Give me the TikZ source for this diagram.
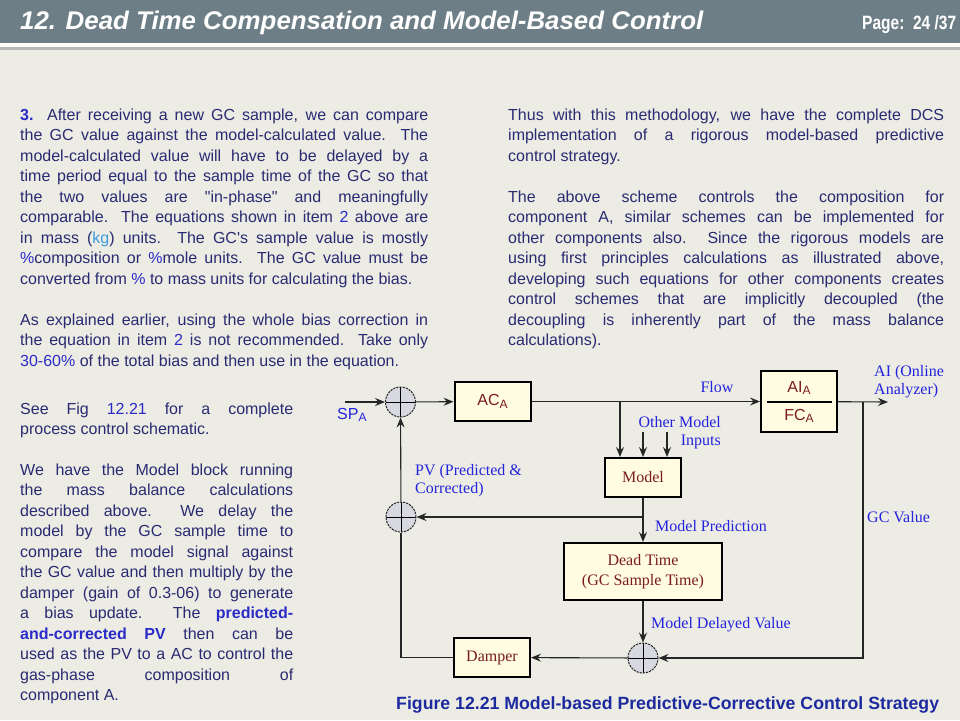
\documentclass[tikz,border=0pt]{standalone}
\usepackage{fontspec}
\setmainfont{Liberation Sans}
\newfontfamily\diagfont{Liberation Serif}
\usetikzlibrary{positioning,arrows.meta}

\definecolor{pagebg}{HTML}{ECECE5}
\definecolor{headbar}{HTML}{6D7E87}
\definecolor{bodyblue}{HTML}{2A2A72}
\definecolor{hiblue}{HTML}{2B2BC8}
\definecolor{kgblue}{HTML}{3C9BDC}
\definecolor{lblblue}{HTML}{2424DC}
\definecolor{boxfill}{HTML}{FFFCE2}
\definecolor{boxtext}{HTML}{7A1C1C}
\definecolor{sumfill}{HTML}{D8D8E0}
\definecolor{capblue}{HTML}{1D2A9E}

\newcommand\hi[1]{\textcolor{hiblue}{#1}}
\newcommand\subA{\raisebox{-2.5pt}{\fontsize{12}{12}\selectfont A}}
\newcommand\dq{\XeTeXglyph\XeTeXcharglyph"22\relax}
\newcommand\sq{\XeTeXglyph\XeTeXcharglyph"27\relax}

\tolerance=10000
\hbadness=10000
\hyphenpenalty=10000
\exhyphenpenalty=10000

\begin{document}
\begin{tikzpicture}[x=1pt,y=-1pt,
			>={Stealth[length=10pt,width=8pt,inset=3.5pt]},
			para/.style={
				anchor=base west,
				inner sep=0pt,
				align=justify,
				text=bodyblue,
				font=\fontsize{16}{20.5}\selectfont},
			block/.style={
				draw=black,
				line width=2pt,
				fill=boxfill,
				text=boxtext,
				align=center,
				inner sep=0pt,
				font=\diagfont\fontsize{16}{19.5}\selectfont},
			sumjn/.style={
				circle,
				minimum size=30pt,
				inner sep=0pt,
				draw=black!85,
				line width=1pt,
				dash pattern=on 2.2pt off 1pt,
				fill=sumfill,
				path picture={
					\draw[solid,black,line width=1pt]
						(path picture bounding box.north) -- (path picture bounding box.south)
						(path picture bounding box.west) -- (path picture bounding box.east);}},
			signal/.style={draw=black!85,line width=1.1pt},
			lbl/.style={
				text=lblblue,
				inner sep=0pt,
				align=left,
				font=\diagfont\fontsize{16}{18.5}\selectfont}]
			
			\useasboundingbox[fill=pagebg] (0,0) rectangle (960,720);
			
			\fill[headbar] (0,0) rectangle (960,43);
			
			\fill[white!85!pagebg] (0,43) rectangle (960,47);
			
			\fill[black!28] (0,47) rectangle (960,50);
			
			\node (title)[anchor=base west,inner sep=0pt,text=white] at (20,29.5)
				{\resizebox{683pt}{18.5pt}{\bfseries\itshape 12. Dead Time Compensation and Model-Based Control}};
			
			\node (page)[anchor=base west,inner sep=0pt,text=white] at (862,29.5)
				{\resizebox{94pt}{14pt}{\bfseries Page:\ \ 24 /37}};
			
			\node (gcpar)[para,text width=408pt] at (20,120)
				{\textbf{\hi{3.}} After receiving a new GC sample, we can compare\linebreak
				the GC value against the model-calculated value.\ \ The\linebreak
				model-calculated value will have to be delayed by a\linebreak
				time period equal to the sample time of the GC so that\linebreak
				the two values are \dq in-phase\dq{} and meaningfully\linebreak
				comparable.\ \ The equations shown in item \hi{2} above are\linebreak
				in mass (\textcolor{kgblue}{kg}) units.\ \ The GC\sq s sample value is mostly\linebreak
				\hi{\%}composition or \hi{\%}mole units.\ \ The GC value must be\linebreak
				converted from \hi{\%} to mass units for calculating the bias.};
			
			\node (biaspar)[para,text width=408pt] at (20,325)
				{As explained earlier, using the whole bias correction in\linebreak
				the equation in item \hi{2} is not recommended.\ \ Take only\linebreak
				\hi{30-60\%} of the total bias and then use in the equation.};
			
			\node (figpar)[para,text width=273pt] at (20,414)
				{See Fig \hi{12.21} for a complete\linebreak
				process control schematic.};
			
			\node (modelpar)[para,text width=273pt] at (20,475)
				{We have the Model block running\linebreak
				the mass balance calculations\linebreak
				described above.\ \ We delay the\linebreak
				model by the GC sample time to\linebreak
				compare the model signal against\linebreak
				the GC value and then multiply by the\linebreak
				damper (gain of 0.3-06) to generate\linebreak
				a bias update.\ \ The \textbf{\hi{predicted-}}\linebreak
				\textbf{\hi{and-corrected PV}} then can be\linebreak
				used as the PV to a AC to control the\linebreak
				gas-phase composition of\linebreak
				component A.};
			
			\node (dcspar)[para,text width=436pt] at (508,120)
				{Thus with this methodology, we have the complete DCS\linebreak
				implementation of a rigorous model-based predictive\linebreak
				control strategy.};
			
			\node (schemepar)[para,text width=436pt] at (508,202)
				{The above scheme controls the composition for\linebreak
				component A, similar schemes can be implemented for\linebreak
				other components also.\ \ Since the rigorous models are\linebreak
				using first principles calculations as illustrated above,\linebreak
				developing such equations for other components creates\linebreak
				control schemes that are implicitly decoupled (the\linebreak
				decoupling is inherently part of the mass balance\linebreak
				calculations).};
			
			\coordinate (spin) at (345,402);
			
			\coordinate (out) at (888,402);
			
			\coordinate (flowtap) at (620,402);
			
			\coordinate (gctap) at (863,402);
			
			\coordinate (otherin1) at (643,432);
			
			\coordinate (otherin2) at (667,432);
			
			\coordinate (predtap) at (643,517);
			
			\node (sumsp)[sumjn] at (400.5,402) {};
			
			\node (ac)[block,minimum width=76pt,minimum height=39pt,font=\fontsize{16}{16}\selectfont] at (492.5,401.5) {AC\subA};
			
			\node (aifc)[block,minimum width=76pt,minimum height=61pt] at (799,401.5) {};
			
			\draw[line width=1.3pt] (767,402) -- (832,402);
			
			\node (ai)[text=boxtext,inner sep=0pt,font=\fontsize{16}{16}\selectfont] at (799,388) {AI\subA};
			
			\node (fc)[text=boxtext,inner sep=0pt,font=\fontsize{16}{16}\selectfont] at (799,416) {FC\subA};
			
			\node (model)[block,minimum width=76pt,minimum height=39pt] at (643,477.5) {Model};
			
			\node (dead)[block,minimum width=158pt,minimum height=57pt] at (643,571.5) {Dead Time\\(GC Sample Time)};
			
			\node (sumpv)[sumjn] at (401,517) {};
			
			\node (sumgc)[sumjn] at (643,658) {};
			
			\node (damper)[block,minimum width=76pt,minimum height=39pt] at (492,657.5) {Damper};
			
			\draw[signal,->] (spin) -- (sumsp);
			
			\draw[signal,->] (sumsp) -- (ac);
			
			\draw[signal,->] (ac) -- (aifc);
			
			\draw[signal,->] (aifc) -- (out);
			
			\draw[signal,->] (flowtap) -- (flowtap |- model.north);
			
			\draw[signal,->] (otherin1) -- (otherin1 |- model.north);
			
			\draw[signal,->] (otherin2) -- (otherin2 |- model.north);
			
			\draw[signal,->] (model) -- (dead);
			
			\draw[signal,->] (predtap) -- (sumpv);
			
			\draw[signal,->] (dead) -- (sumgc);
			
			\draw[signal,->] (gctap) |- (sumgc);
			
			\draw[signal,->] (sumgc) -- (damper);
			
			\draw[signal] (damper.west) -| (sumpv.south);
			
			\draw[signal,->] (sumpv) -- (sumsp);
			
			\node (sp)[anchor=west,inner sep=0pt,text=lblblue,font=\fontsize{16}{16}\selectfont] at (337,415) {SP\subA};
			
			\node (flow)[lbl] at (717,387) {Flow};
			
			\node (other)[lbl,anchor=north east,align=right] at (721,416) {Other Model\\Inputs};
			
			\node (anal)[lbl,anchor=north west] at (874,365) {AI (Online\\Analyzer)};
			
			\node (gcval)[lbl,anchor=west] at (867,517) {GC Value};
			
			\node (pv)[lbl,anchor=north west] at (415,464) {PV (Predicted \&\\Corrected)};
			
			\node (pred)[lbl,anchor=west] at (655,526) {Model Prediction};
			
			\node (delayed)[lbl,anchor=west] at (651,625) {Model Delayed Value};
			
			\node (caption)[anchor=base west,inner sep=0pt,text=capblue,font=\bfseries\fontsize{17.7}{18}\selectfont] at (396,709)
				{Figure 12.21 Model-based Predictive-Corrective Control Strategy};
			
		\end{tikzpicture}
\end{document}
